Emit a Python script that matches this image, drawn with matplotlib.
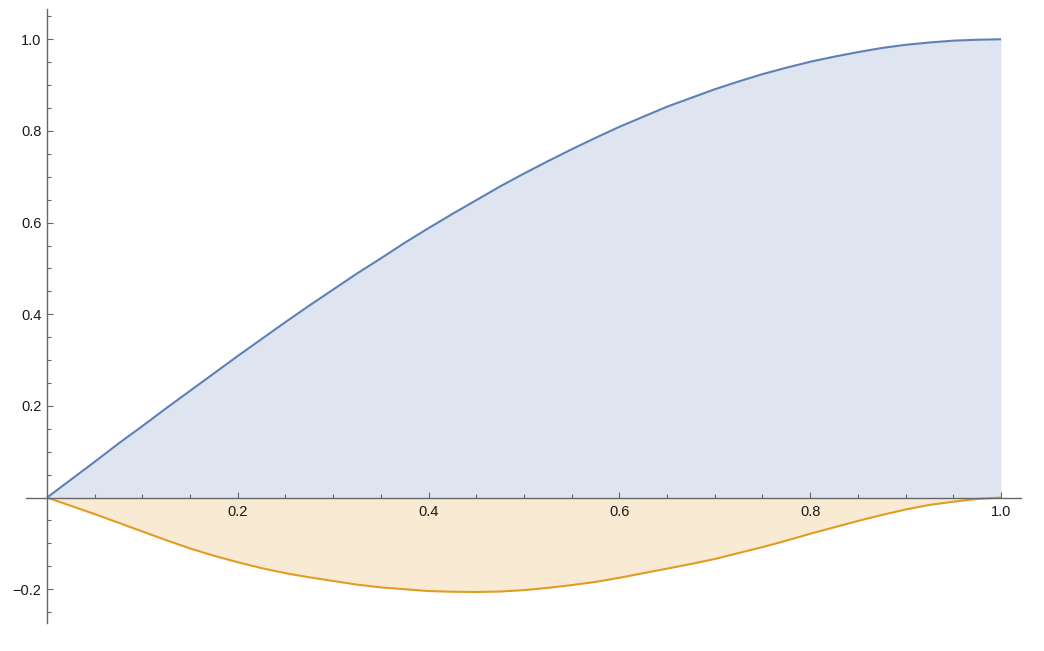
"""area plot of two curves, mathematica style axes"""

import numpy as np
import matplotlib
matplotlib.use("Agg")
import matplotlib.pyplot as plt

# values (every 0.025 in x)
xs = [0.0, 0.025, 0.05, 0.075, 0.1, 0.125, 0.15, 0.175, 0.2, 0.225, 0.25,
      0.275, 0.3, 0.325, 0.35, 0.375, 0.4, 0.425, 0.45, 0.475, 0.5,
      0.525, 0.55, 0.575, 0.6, 0.625, 0.65, 0.675, 0.7, 0.725, 0.75,
      0.775, 0.8, 0.825, 0.85, 0.875, 0.9, 0.925, 0.95, 0.975, 1.0]
blue_vals = [0.0, 0.039, 0.078, 0.118, 0.156, 0.195, 0.233, 0.271, 0.309, 0.346, 0.383,
             0.419, 0.454, 0.489, 0.522, 0.556, 0.588, 0.619, 0.649, 0.679, 0.707,
             0.734, 0.760, 0.785, 0.809, 0.831, 0.853, 0.872, 0.891, 0.908, 0.924,
             0.938, 0.951, 0.962, 0.972, 0.981, 0.988, 0.993, 0.997, 0.999, 1.0]
orange_vals = [0.0, -0.018, -0.036, -0.055, -0.074, -0.093, -0.111, -0.127, -0.141, -0.154, -0.165,
               -0.174, -0.182, -0.190, -0.196, -0.200, -0.204, -0.2055, -0.206, -0.205, -0.202,
               -0.197, -0.191, -0.184, -0.175, -0.165, -0.155, -0.145, -0.134, -0.121, -0.108,
               -0.094, -0.079, -0.065, -0.051, -0.038, -0.026, -0.016, -0.009, -0.003, 0.0]

xtick_vals = [0.2, 0.4, 0.6, 0.8, 1.0]
xtick_labels = ["0.2", "0.4", "0.6", "0.8", "1.0"]
ytick_vals = [-0.2, 0.2, 0.4, 0.6, 0.8, 1.0]
ytick_labels = ["\u22120.2", "0.2", "0.4", "0.6", "0.8", "1.0"]

blue = "#5E81B5"
orange = "#E19C24"
axis_col = "#666666"

plt.rcParams["font.family"] = ["Liberation Sans", "DejaVu Sans"]

fig = plt.figure(figsize=(10.44, 6.51), dpi=100)
ax = fig.add_axes([0.0249, 0.0435, 0.9531, 0.9426])

x = np.array(xs)
yb = np.array(blue_vals)
yo = np.array(orange_vals)

ax.fill_between(x, yb, 0, color=blue, alpha=0.2, lw=0)
ax.fill_between(x, yo, 0, color=orange, alpha=0.2, lw=0)
ax.plot(x, yb, color=blue, lw=1.5, solid_capstyle="butt", solid_joinstyle="round")
ax.plot(x, yo, color=orange, lw=1.5, solid_capstyle="butt", solid_joinstyle="round")

ax.set_xlim(-0.022, 1.021)
ax.set_ylim(-0.273, 1.066)

for s in ["top", "right"]:
    ax.spines[s].set_visible(False)
ax.spines["left"].set_position(("data", 0))
ax.spines["bottom"].set_position(("data", 0))
for s in ["left", "bottom"]:
    ax.spines[s].set_color(axis_col)
    ax.spines[s].set_linewidth(1.0)

ax.set_xticks(xtick_vals)
ax.set_xticklabels(xtick_labels)
ax.set_yticks(ytick_vals)
ax.set_yticklabels(ytick_labels)
ax.set_xticks(np.arange(0.05, 1.0, 0.05), minor=True)
ax.set_yticks(np.concatenate([np.arange(-0.25, 0, 0.05), np.arange(0.05, 1.06, 0.05)]), minor=True)

ax.tick_params(which="both", direction="in", color=axis_col, width=0.8,
               labelsize=10.5, labelcolor="#1a1a1a")
ax.tick_params(which="major", length=4.5)
ax.tick_params(which="minor", length=2.6)
ax.tick_params(axis="x", which="major", pad=5)
ax.tick_params(axis="y", which="major", pad=4)

fig.savefig("out.png", dpi=100)
